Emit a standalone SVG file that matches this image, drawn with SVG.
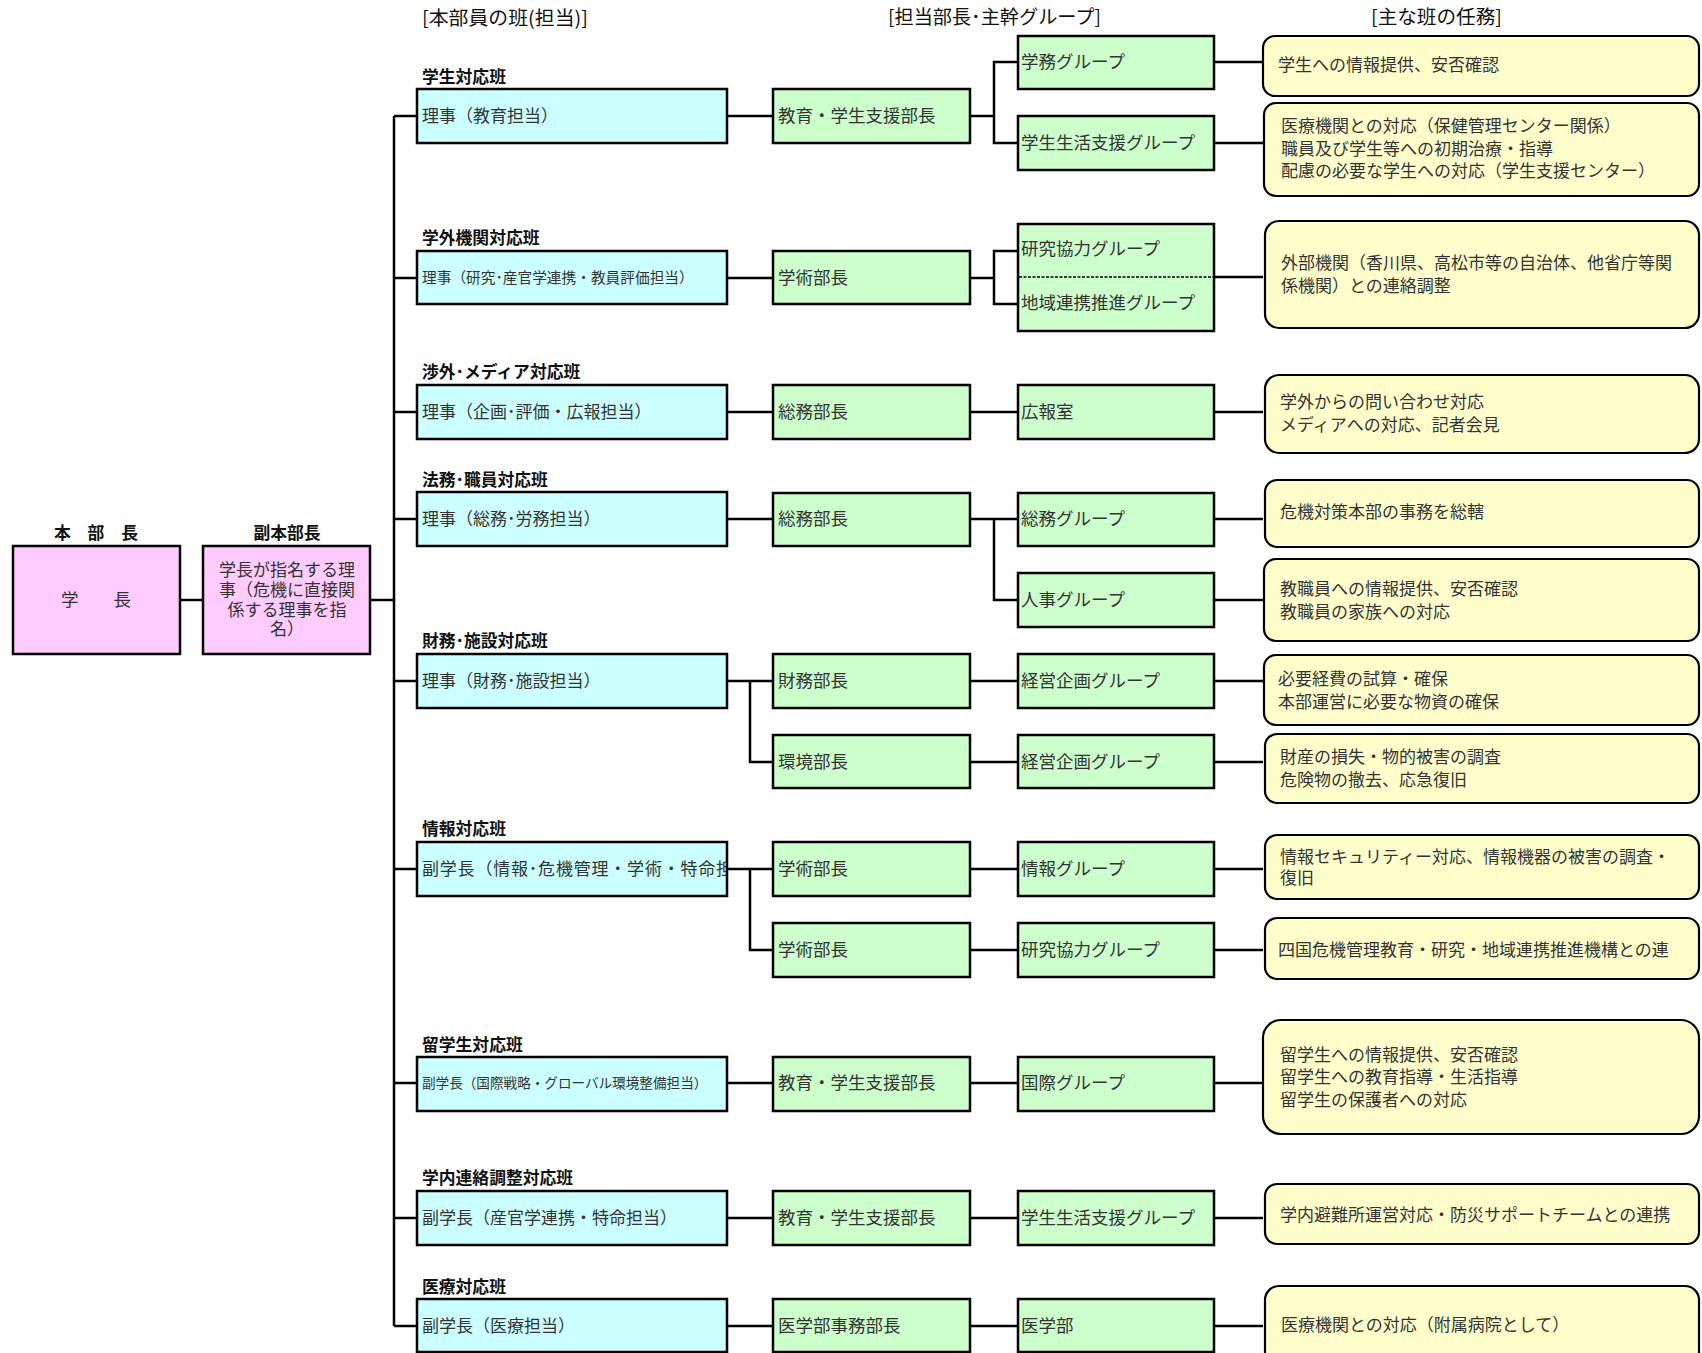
<svg xmlns="http://www.w3.org/2000/svg" width="1702" height="1353" viewBox="0 0 1702 1353">
<style>
text{font-family:"Noto Sans CJK JP","Noto Sans",sans-serif;fill:#333}
.hd{font-size:19px;fill:#111}
.lb{font-size:16.8px;font-weight:bold;fill:#111}
.t1{font-size:17px}
.t2{font-size:17.5px}
.t3{font-size:17px}
.t4{font-size:17px}
.pk{fill:#FFCCFF;stroke:#000;stroke-width:2.5}
.cy{fill:#CCFFFF;stroke:#000;stroke-width:2.5}
.gr{fill:#CCFFCC;stroke:#000;stroke-width:2.5}
.yl{fill:#FFFFCC;stroke:#000;stroke-width:2.2}
.c line,.c polyline{stroke:#000;stroke-width:2.5;fill:none}
</style>
<defs>
<clipPath id="clipInfo"><rect x="418" y="842" width="308" height="54"/></clipPath>
</defs>
<rect width="1702" height="1353" fill="#fff"/>

<g id="headers">
<text class="hd" x="422" y="25" textLength="166" lengthAdjust="spacingAndGlyphs">[本部員の班(担当)]</text>
<text class="hd" x="888" y="24" textLength="213" lengthAdjust="spacingAndGlyphs">[担当部長･主幹グループ]</text>
<text class="hd" x="1371" y="24" textLength="131" lengthAdjust="spacingAndGlyphs">[主な班の任務]</text>
</g>

<g class="c" id="connectors">
<line x1="180" y1="600" x2="203" y2="600"/>
<line x1="370" y1="600" x2="394" y2="600"/>
<line x1="394" y1="116" x2="394" y2="1326"/>
<line x1="394" y1="116" x2="417" y2="116"/>
<line x1="394" y1="278" x2="417" y2="278"/>
<line x1="394" y1="412" x2="417" y2="412"/>
<line x1="394" y1="519" x2="417" y2="519"/>
<line x1="394" y1="681" x2="417" y2="681"/>
<line x1="394" y1="869" x2="417" y2="869"/>
<line x1="394" y1="1083" x2="417" y2="1083"/>
<line x1="394" y1="1218" x2="417" y2="1218"/>
<line x1="394" y1="1326" x2="417" y2="1326"/>
<line x1="727" y1="116" x2="773" y2="116"/>
<line x1="970" y1="116" x2="994" y2="116"/>
<polyline points="1018,62 994,62 994,143 1018,143"/>
<line x1="1214" y1="62" x2="1263" y2="62"/>
<line x1="1214" y1="143" x2="1263" y2="143"/>
<line x1="727" y1="278" x2="773" y2="278"/>
<line x1="970" y1="278" x2="994" y2="278"/>
<polyline points="1018,251 994,251 994,304 1018,304"/>
<line x1="1214" y1="277" x2="1263" y2="277"/>
<line x1="727" y1="412" x2="773" y2="412"/>
<line x1="970" y1="412" x2="1018" y2="412"/>
<line x1="1214" y1="412" x2="1263" y2="412"/>
<line x1="727" y1="519" x2="773" y2="519"/>
<line x1="970" y1="519" x2="1018" y2="519"/>
<polyline points="994,519 994,600 1018,600"/>
<line x1="1214" y1="519" x2="1263" y2="519"/>
<line x1="1214" y1="600" x2="1263" y2="600"/>
<line x1="727" y1="681" x2="773" y2="681"/>
<polyline points="750,681 750,762 773,762"/>
<line x1="970" y1="681" x2="1018" y2="681"/>
<line x1="970" y1="762" x2="1018" y2="762"/>
<line x1="1214" y1="681" x2="1263" y2="681"/>
<line x1="1214" y1="762" x2="1263" y2="762"/>
<line x1="727" y1="869" x2="773" y2="869"/>
<polyline points="750,869 750,950 773,950"/>
<line x1="970" y1="869" x2="1018" y2="869"/>
<line x1="970" y1="950" x2="1018" y2="950"/>
<line x1="1214" y1="869" x2="1263" y2="869"/>
<line x1="1214" y1="950" x2="1263" y2="950"/>
<line x1="727" y1="1083" x2="773" y2="1083"/>
<line x1="970" y1="1083" x2="1018" y2="1083"/>
<line x1="1214" y1="1083" x2="1263" y2="1083"/>
<line x1="727" y1="1218" x2="773" y2="1218"/>
<line x1="970" y1="1218" x2="1018" y2="1218"/>
<line x1="1214" y1="1218" x2="1263" y2="1218"/>
<line x1="727" y1="1326" x2="773" y2="1326"/>
<line x1="970" y1="1326" x2="1018" y2="1326"/>
<line x1="1214" y1="1326" x2="1263" y2="1326"/>
</g>

<g id="chief">
<text class="lb" x="96" y="539" text-anchor="middle">本　部　長</text>
<rect class="pk" x="13" y="546" width="167" height="108"/>
<text class="t2" x="96" y="606" text-anchor="middle">学　　長</text>
</g>
<g id="vice">
<text class="lb" x="287" y="539" text-anchor="middle">副本部長</text>
<rect class="pk" x="203" y="546" width="167" height="108"/>
<text class="t3" x="287" y="576" text-anchor="middle">学長が指名する理</text>
<text class="t3" x="287" y="596" text-anchor="middle">事（危機に直接関</text>
<text class="t3" x="287" y="616" text-anchor="middle">係する理事を指</text>
<text class="t3" x="287" y="635" text-anchor="middle">名）</text>
</g>

<g id="n-gakusei">
<text class="lb" x="422" y="83">学生対応班</text>
<rect class="cy" x="417" y="89" width="310" height="54"/>
<text class="t1" x="422" y="122">理事（教育担当）</text>
</g>
<g id="n-gakugai">
<text class="lb" x="422" y="244">学外機関対応班</text>
<rect class="cy" x="417" y="251" width="310" height="53"/>
<text x="422" y="283" style="font-size:14.7px">理事（研究･産官学連携・教員評価担当）</text>
</g>
<g id="n-shogai">
<text class="lb" x="422" y="378">渉外･メディア対応班</text>
<rect class="cy" x="417" y="385" width="310" height="54"/>
<text class="t1" x="422" y="418">理事（企画･評価・広報担当）</text>
</g>
<g id="n-homu">
<text class="lb" x="422" y="486">法務･職員対応班</text>
<rect class="cy" x="417" y="492" width="310" height="54"/>
<text class="t1" x="422" y="525">理事（総務･労務担当）</text>
</g>
<g id="n-zaimu">
<text class="lb" x="422" y="647">財務･施設対応班</text>
<rect class="cy" x="417" y="654" width="310" height="54"/>
<text class="t1" x="422" y="687">理事（財務･施設担当）</text>
</g>
<g id="n-joho">
<text class="lb" x="422" y="835">情報対応班</text>
<rect class="cy" x="417" y="842" width="310" height="54"/>
<text class="t1" x="422" y="875" clip-path="url(#clipInfo)" style="letter-spacing:0.8px">副学長（情報･危機管理・学術・特命担</text>
</g>
<g id="n-ryugaku">
<text class="lb" x="422" y="1051">留学生対応班</text>
<rect class="cy" x="417" y="1057" width="310" height="54"/>
<text x="422" y="1088" style="font-size:13.6px">副学長（国際戦略・グローバル環境整備担当）</text>
</g>
<g id="n-gakunai">
<text class="lb" x="422" y="1184">学内連絡調整対応班</text>
<rect class="cy" x="417" y="1191" width="310" height="54"/>
<text class="t1" x="422" y="1224">副学長（産官学連携・特命担当）</text>
</g>
<g id="n-iryo">
<text class="lb" x="422" y="1293">医療対応班</text>
<rect class="cy" x="417" y="1299" width="310" height="53"/>
<text class="t1" x="422" y="1332">副学長（医療担当）</text>
</g>

<g id="m-a"><rect class="gr" x="773" y="89" width="197" height="54"/><text class="t2" x="778" y="122">教育・学生支援部長</text></g>
<g id="m-b"><rect class="gr" x="773" y="251" width="197" height="53"/><text class="t2" x="778" y="284">学術部長</text></g>
<g id="m-c"><rect class="gr" x="773" y="385" width="197" height="54"/><text class="t2" x="778" y="418">総務部長</text></g>
<g id="m-d"><rect class="gr" x="773" y="493" width="197" height="53"/><text class="t2" x="778" y="525">総務部長</text></g>
<g id="m-e1"><rect class="gr" x="773" y="654" width="197" height="54"/><text class="t2" x="778" y="687">財務部長</text></g>
<g id="m-e2"><rect class="gr" x="773" y="735" width="197" height="53"/><text class="t2" x="778" y="768">環境部長</text></g>
<g id="m-f1"><rect class="gr" x="773" y="842" width="197" height="54"/><text class="t2" x="778" y="875">学術部長</text></g>
<g id="m-f2"><rect class="gr" x="773" y="923" width="197" height="54"/><text class="t2" x="778" y="956">学術部長</text></g>
<g id="m-g"><rect class="gr" x="773" y="1057" width="197" height="54"/><text class="t2" x="778" y="1089">教育・学生支援部長</text></g>
<g id="m-h"><rect class="gr" x="773" y="1191" width="197" height="54"/><text class="t2" x="778" y="1224">教育・学生支援部長</text></g>
<g id="m-i"><rect class="gr" x="773" y="1299" width="197" height="53"/><text class="t2" x="778" y="1332">医学部事務部長</text></g>

<g id="g-a1"><rect class="gr" x="1018" y="36" width="196" height="53"/><text class="t2" x="1021" y="68">学務グループ</text></g>
<g id="g-a2"><rect class="gr" x="1018" y="116" width="196" height="54"/><text class="t2" x="1021" y="149">学生生活支援グループ</text></g>
<g id="g-b"><rect class="gr" x="1018" y="224" width="196" height="107"/>
<line x1="1019" y1="277" x2="1213" y2="277" stroke="#000" stroke-width="1.5" stroke-dasharray="3 1.5"/>
<text class="t2" x="1021" y="255">研究協力グループ</text><text class="t2" x="1021" y="309">地域連携推進グループ</text></g>
<g id="g-c"><rect class="gr" x="1018" y="385" width="196" height="54"/><text class="t2" x="1021" y="418">広報室</text></g>
<g id="g-d1"><rect class="gr" x="1018" y="493" width="196" height="53"/><text class="t2" x="1021" y="525">総務グループ</text></g>
<g id="g-d2"><rect class="gr" x="1018" y="573" width="196" height="54"/><text class="t2" x="1021" y="606">人事グループ</text></g>
<g id="g-e1"><rect class="gr" x="1018" y="654" width="196" height="54"/><text class="t2" x="1021" y="687">経営企画グループ</text></g>
<g id="g-e2"><rect class="gr" x="1018" y="735" width="196" height="53"/><text class="t2" x="1021" y="768">経営企画グループ</text></g>
<g id="g-f1"><rect class="gr" x="1018" y="842" width="196" height="54"/><text class="t2" x="1021" y="875">情報グループ</text></g>
<g id="g-f2"><rect class="gr" x="1018" y="923" width="196" height="54"/><text class="t2" x="1021" y="956">研究協力グループ</text></g>
<g id="g-g"><rect class="gr" x="1018" y="1057" width="196" height="54"/><text class="t2" x="1021" y="1089">国際グループ</text></g>
<g id="g-h"><rect class="gr" x="1018" y="1191" width="196" height="54"/><text class="t2" x="1021" y="1224">学生生活支援グループ</text></g>
<g id="g-i"><rect class="gr" x="1018" y="1299" width="196" height="53"/><text class="t2" x="1021" y="1332">医学部</text></g>

<g id="k-a1"><rect class="yl" x="1263" y="36" width="436" height="60" rx="12"/>
<text class="t4" x="1278" y="71">学生への情報提供、安否確認</text></g>
<g id="k-a2"><rect class="yl" x="1264" y="103" width="435" height="93" rx="12"/>
<text class="t4" x="1281" y="132">医療機関との対応（保健管理センター関係）</text>
<text class="t4" x="1281" y="155">職員及び学生等への初期治療・指導</text>
<text class="t4" x="1281" y="177">配慮の必要な学生への対応（学生支援センター）</text></g>
<g id="k-b"><rect class="yl" x="1265" y="221" width="434" height="107" rx="14"/>
<text class="t4" x="1281" y="269">外部機関（香川県、高松市等の自治体、他省庁等関</text>
<text class="t4" x="1281" y="292">係機関）との連絡調整</text></g>
<g id="k-c"><rect class="yl" x="1265" y="375" width="434" height="78" rx="14"/>
<text class="t4" x="1280" y="408">学外からの問い合わせ対応</text>
<text class="t4" x="1280" y="431">メディアへの対応、記者会見</text></g>
<g id="k-d1"><rect class="yl" x="1265" y="480" width="434" height="67" rx="12"/>
<text class="t4" x="1280" y="518">危機対策本部の事務を総轄</text></g>
<g id="k-d2"><rect class="yl" x="1264" y="559" width="435" height="82" rx="12"/>
<text class="t4" x="1280" y="595">教職員への情報提供、安否確認</text>
<text class="t4" x="1280" y="618">教職員の家族への対応</text></g>
<g id="k-e1"><rect class="yl" x="1264" y="655" width="435" height="70" rx="12"/>
<text class="t4" x="1278" y="685">必要経費の試算・確保</text>
<text class="t4" x="1278" y="708">本部運営に必要な物資の確保</text></g>
<g id="k-e2"><rect class="yl" x="1265" y="734" width="434" height="69" rx="12"/>
<text class="t4" x="1280" y="763">財産の損失・物的被害の調査</text>
<text class="t4" x="1280" y="786">危険物の撤去、応急復旧</text></g>
<g id="k-f1"><rect class="yl" x="1265" y="835" width="434" height="64" rx="12"/>
<text class="t4" x="1280" y="863">情報セキュリティー対応、情報機器の被害の調査・</text>
<text class="t4" x="1280" y="884">復旧</text></g>
<g id="k-f2"><rect class="yl" x="1265" y="918" width="434" height="61" rx="12"/>
<text class="t4" x="1278" y="956">四国危機管理教育・研究・地域連携推進機構との連</text></g>
<g id="k-g"><rect class="yl" x="1263" y="1020" width="436" height="114" rx="18"/>
<text class="t4" x="1280" y="1061">留学生への情報提供、安否確認</text>
<text class="t4" x="1280" y="1083">留学生への教育指導・生活指導</text>
<text class="t4" x="1280" y="1106">留学生の保護者への対応</text></g>
<g id="k-h"><rect class="yl" x="1265" y="1184" width="434" height="60" rx="12"/>
<text class="t4" x="1280" y="1221">学内避難所運営対応・防災サポートチームとの連携</text></g>
<g id="k-i"><rect class="yl" x="1265" y="1286" width="434" height="80" rx="14"/>
<text class="t4" x="1281" y="1331">医療機関との対応（附属病院として）</text></g>
</svg>
